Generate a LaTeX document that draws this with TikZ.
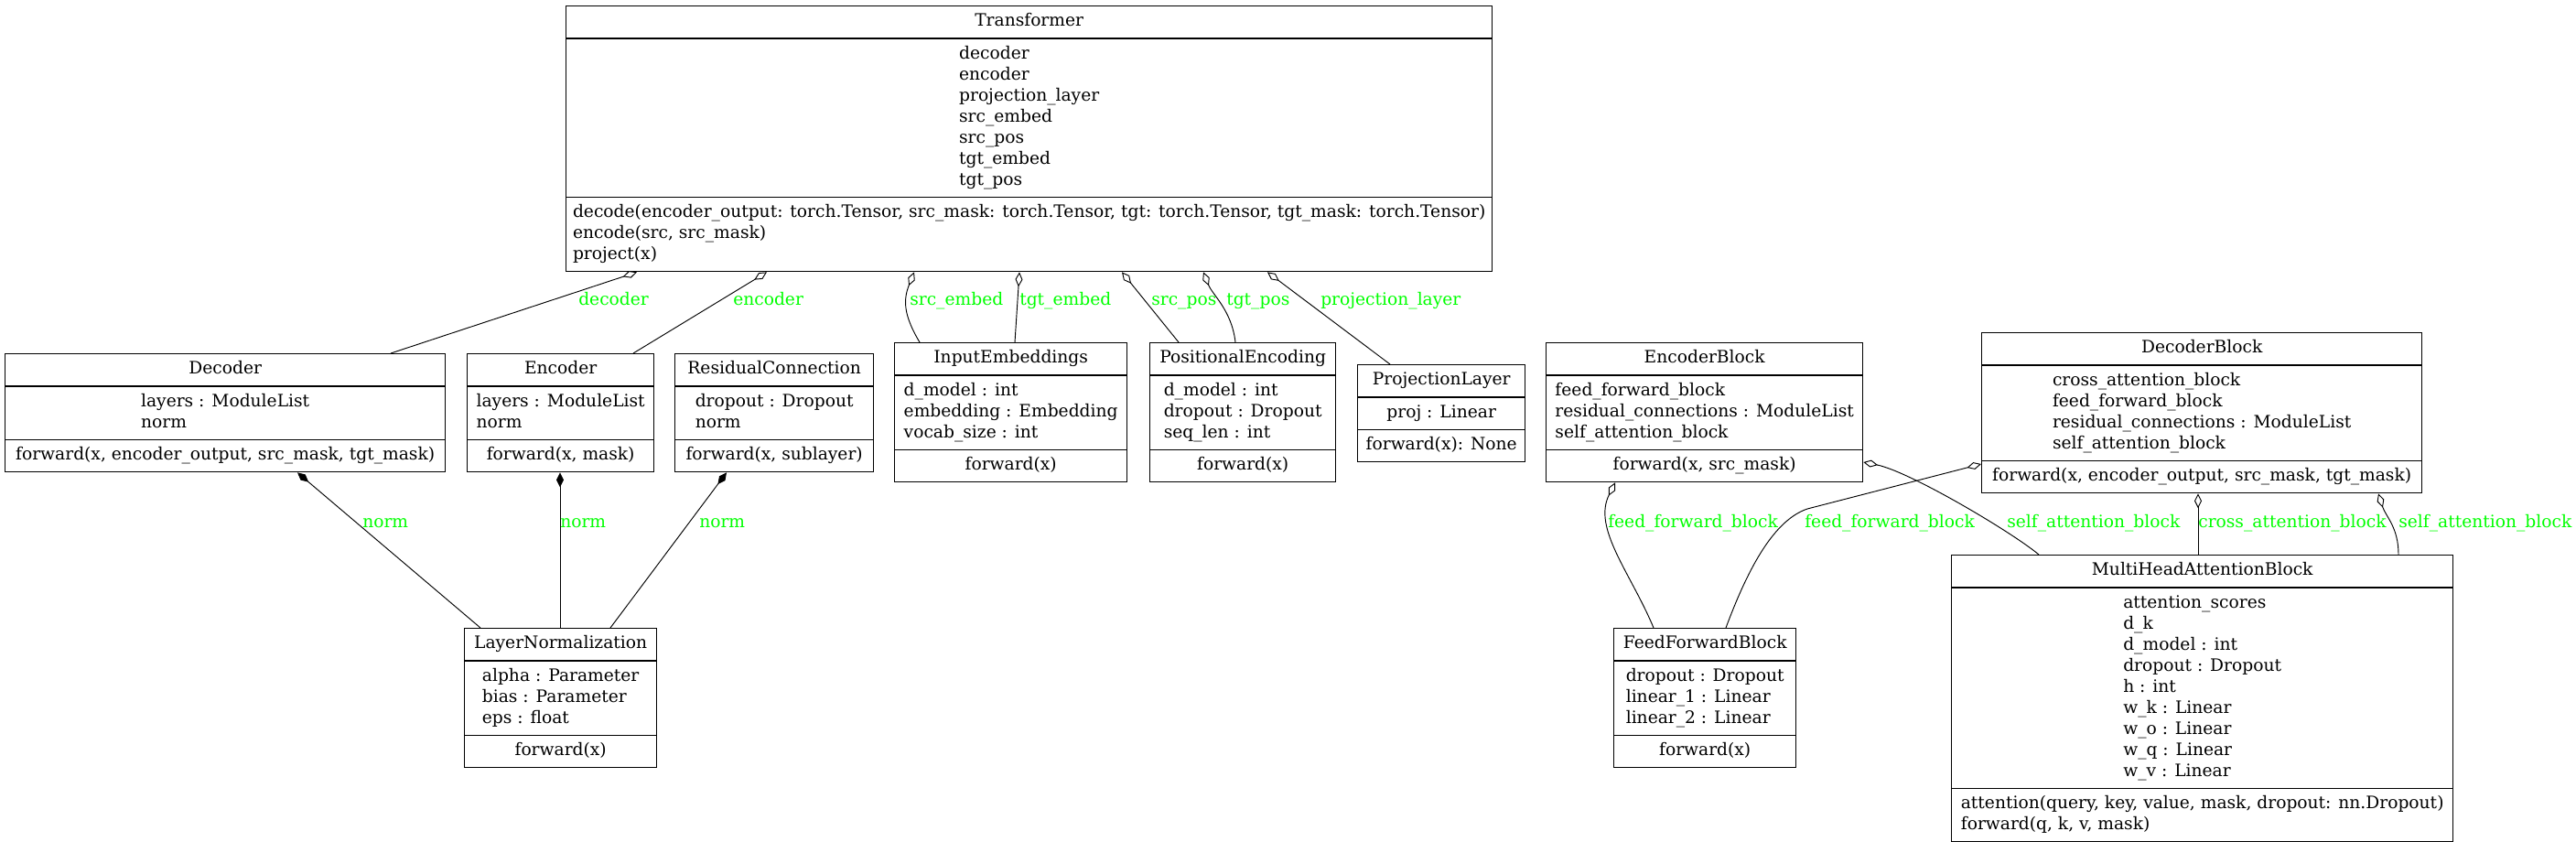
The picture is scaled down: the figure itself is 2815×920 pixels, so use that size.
\documentclass[tikz,border=0pt]{standalone}
\usepackage{fontspec}
\setmainfont{DejaVu Serif}
\usetikzlibrary{shapes.multipart,arrows.meta,calc}
\definecolor{rolegreen}{HTML}{00FF00}
\newcommand{\cellrows}[1]{\begin{tabular}{@{}l@{}}#1\end{tabular}}
\tikzset{
  umlbox/.style={draw, line width=1pt, rectangle split, rectangle split parts=3,
    anchor=north west, inner xsep=5pt, inner ysep=4.125pt,
    font=\fontsize{14}{17.25}\selectfont},
  role/.style={text=rolegreen, inner sep=0pt, anchor=base west,
    font=\fontsize{14}{17.25}\selectfont},
  aggr/.style={line width=0.7pt, -{Diamond[open,length=12pt,width=6pt]}},
  comp/.style={line width=0.7pt, -{Diamond[length=12pt,width=6pt]}},
}

\begin{document}
\begin{tikzpicture}[x=0.75pt,y=-0.75pt]
   \useasboundingbox (0,0) rectangle (2815,920);
   % classes
   \node[umlbox, minimum width=759pt] (tr) at (618,6)
     {\cellrows{Transformer}
      \nodepart{two}\cellrows{decoder\\encoder\\projection\_layer\\src\_embed\\src\_pos\\tgt\_embed\\tgt\_pos}
      \nodepart{three}\cellrows{decode(encoder\_output: torch.Tensor, src\_mask: torch.Tensor, tgt: torch.Tensor, tgt\_mask: torch.Tensor)\\encode(src, src\_mask)\\project(x)}};
   \node[umlbox, minimum width=360.75pt] (dec) at (5,386)
     {\cellrows{Decoder}
      \nodepart{two}\cellrows{layers : ModuleList\\norm}
      \nodepart{three}\cellrows{forward(x, encoder\_output, src\_mask, tgt\_mask)}};
   \node[umlbox, minimum width=153pt] (enc) at (510,386)
     {\cellrows{Encoder}
      \nodepart{two}\cellrows{layers : ModuleList\\norm}
      \nodepart{three}\cellrows{forward(x, mask)}};
   \node[umlbox, minimum width=162.75pt] (res) at (737,386)
     {\cellrows{ResidualConnection}
      \nodepart{two}\cellrows{dropout : Dropout\\norm}
      \nodepart{three}\cellrows{forward(x, sublayer)}};
   \node[umlbox, minimum width=190.5pt] (emb) at (977,374)
     {\cellrows{InputEmbeddings}
      \nodepart{two}\cellrows{d\_model : int\\embedding : Embedding\\vocab\_size : int}
      \nodepart{three}\cellrows{forward(x)}};
   \node[umlbox, minimum width=152.25pt] (pos) at (1256,374)
     {\cellrows{PositionalEncoding}
      \nodepart{two}\cellrows{d\_model : int\\dropout : Dropout\\seq\_len : int}
      \nodepart{three}\cellrows{forward(x)}};
   \node[umlbox, minimum width=137.25pt] (proj) at (1483,398)
     {\cellrows{ProjectionLayer}
      \nodepart{two}\cellrows{proj : Linear}
      \nodepart{three}\cellrows{forward(x): None}};
   \node[umlbox, minimum width=259.5pt] (encb) at (1689,374)
     {\cellrows{EncoderBlock}
      \nodepart{two}\cellrows{feed\_forward\_block\\residual\_connections : ModuleList\\self\_attention\_block}
      \nodepart{three}\cellrows{forward(x, src\_mask)}};
   \node[umlbox, minimum width=360.75pt] (decb) at (2165,363)
     {\cellrows{DecoderBlock}
      \nodepart{two}\cellrows{cross\_attention\_block\\feed\_forward\_block\\residual\_connections : ModuleList\\self\_attention\_block}
      \nodepart{three}\cellrows{forward(x, encoder\_output, src\_mask, tgt\_mask)}};
   \node[umlbox, minimum width=157.5pt] (ln) at (507,686)
     {\cellrows{LayerNormalization}
      \nodepart{two}\cellrows{alpha : Parameter\\bias : Parameter\\eps : float}
      \nodepart{three}\cellrows{forward(x)}};
   \node[umlbox, minimum width=149.25pt] (ffb) at (1763,686)
     {\cellrows{FeedForwardBlock}
      \nodepart{two}\cellrows{dropout : Dropout\\linear\_1 : Linear\\linear\_2 : Linear}
      \nodepart{three}\cellrows{forward(x)}};
   \node[umlbox, minimum width=411pt] (mha) at (2132,606)
     {\cellrows{MultiHeadAttentionBlock}
      \nodepart{two}\cellrows{attention\_scores\\d\_k\\d\_model : int\\dropout : Dropout\\h : int\\w\_k : Linear\\w\_o : Linear\\w\_q : Linear\\w\_v : Linear}
      \nodepart{three}\cellrows{attention(query, key, value, mask, dropout: nn.Dropout)\\forward(q, k, v, mask)}};
   % parts of Transformer
   \draw[aggr] ($(dec.north west)+(422,0)$) -- ($(tr.south west)+(78,0)$);
   \draw[aggr] ($(enc.north west)+(182,0)$) -- ($(tr.south west)+(220,0)$);
   \draw[aggr] ($(emb.north west)+(28,0)$) .. controls +(-18,-30) and +(-12,30) .. ($(tr.south west)+(381,0)$);
   \draw[aggr] ($(emb.north west)+(132,0)$) -- ($(tr.south west)+(496,0)$);
   \draw[aggr] ($(pos.north west)+(32,0)$) -- ($(tr.south west)+(608,0)$);
   \draw[aggr] ($(pos.north west)+(94,0)$) .. controls +(-4,-35) and +(10,25) .. ($(tr.south west)+(697,0)$);
   \draw[aggr] ($(proj.north west)+(36,0)$) -- ($(tr.south west)+(767,0)$);
   \node[role] (l-dec) at (632,333) {decoder};
   \node[role] (l-enc) at (801,333) {encoder};
   \node[role] (l-semb) at (994,333) {src\_embed};
   \node[role] (l-temb) at (1114,333) {tgt\_embed};
   \node[role] (l-spos) at (1258,333) {src\_pos};
   \node[role] (l-tpos) at (1340,333) {tgt\_pos};
   \node[role] (l-proj) at (1443,333) {projection\_layer};
   % norm
   \draw[comp] ($(ln.north west)+(18,0)$) -- ($(dec.south west)+(320,0)$);
   \draw[comp] ($(ln.north west)+(105,0)$) -- ($(enc.south west)+(102,0)$);
   \draw[comp] ($(ln.north west)+(160,0)$) -- ($(res.south west)+(57,0)$);
   \node[role] (l-norm1) at (396,576) {norm};
   \node[role] (l-norm2) at (612,576) {norm};
   \node[role] (l-norm3) at (764,576) {norm};
   % blocks
   \draw[aggr] ($(ffb.north west)+(44,0)$) .. controls +(-25,-60) and +(-25,50) .. ($(encb.south west)+(76,0)$);
   \draw[aggr] ($(ffb.north west)+(123,0)$) .. controls +(26,-70) and +(-35,12) .. ++(89,-130) -- ($(decb.north west)+(0,144)$);
   \draw[aggr] ($(mha.north west)+(96,0)$) .. controls +(-30,-25) and +(50,10) .. ($(encb.north east)+(0,131)$);
   \draw[aggr] ($(mha.north west)+(270,0)$) -- ($(decb.south west)+(237,0)$);
   \draw[aggr] ($(mha.north west)+(489,0)$) .. controls +(0,-30) and +(8,25) .. ($(decb.south west)+(434,0)$);
   \node[role] (l-ffb1) at (1757,576) {feed\_forward\_block};
   \node[role] (l-ffb2) at (1972,576) {feed\_forward\_block};
   \node[role] (l-sab1) at (2193,576) {self\_attention\_block};
   \node[role] (l-cab) at (2402,576) {cross\_attention\_block};
   \node[role] (l-sab2) at (2621,576) {self\_attention\_block};
\end{tikzpicture}
\end{document}
